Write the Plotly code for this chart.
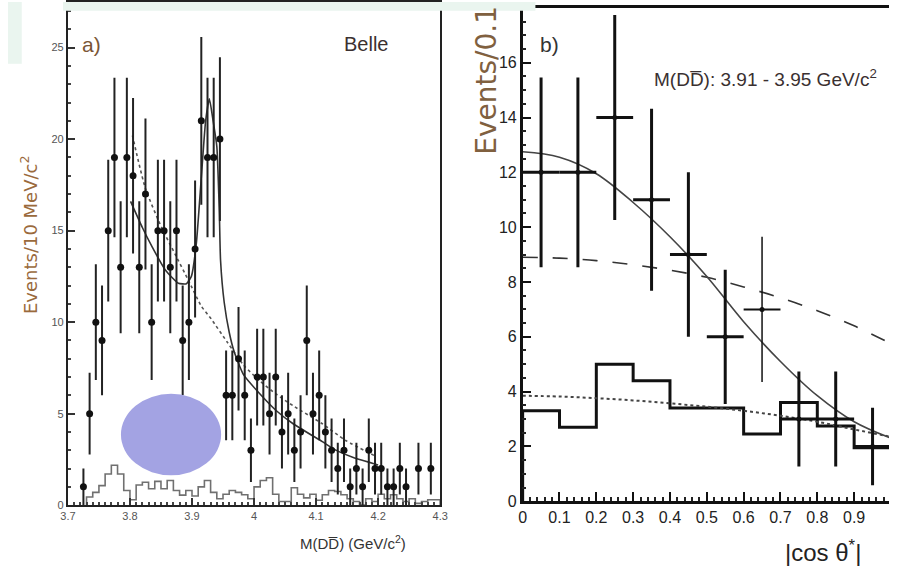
import numpy as np
import plotly.graph_objects as go

# ---------------- Panel a data ----------------
mass = [3.725, 3.735, 3.745, 3.755, 3.765, 3.775, 3.785, 3.795, 3.805, 3.815,
        3.825, 3.835, 3.845, 3.855, 3.865, 3.875, 3.885, 3.895, 3.905, 3.915,
        3.925, 3.935, 3.945, 3.955, 3.965, 3.975, 3.985, 3.995, 4.005, 4.015,
        4.025, 4.035, 4.045, 4.055, 4.065, 4.075, 4.085, 4.095, 4.105, 4.115,
        4.125, 4.135, 4.145, 4.155, 4.165, 4.175, 4.185, 4.195, 4.205, 4.215,
        4.225, 4.235, 4.245, 4.265, 4.285]
counts_a = [1, 5, 10, 9, 15, 19, 13, 19, 18, 13,
            17, 10, 15, 15, 13, 15, 9, 10, 14, 21,
            19, 19, 20, 6, 6, 8, 6, 3, 7, 7,
            5, 7, 4, 5, 3, 4, 9, 5, 6, 4,
            3, 2, 3, 1, 2, 1, 3, 2, 2, 1,
            1, 2, 1, 2, 2]

# background histogram (10 MeV bins starting at 3.73)
bkg_a_start = 3.73
bkg_a_width = 0.01
bkg_a = [0.45, 0.7, 1.07, 1.7, 2.18, 1.7, 0.8, 0.3, 1.1, 1.25,
         0.9, 1.3, 0.9, 1.35, 0.8, 0.55, 0.8, 0.5, 1.0, 1.35,
         0.7, 0.35, 0.6, 0.8, 0.7, 0.57, 0.35, 1.0, 1.35, 1.5,
         0.6, 0.2, 0.2, 0.95, 0.6, 0.4, 0.6, 0.27, 0.57, 0.8,
         0.75, 0.57, 0.35, 0.2, 0.0, 0.35, 0.2, 0.6, 0.35, 0.57,
         0.35, 0.2, 0.35, 0.1, 0.2, 0.3, 0.3]

# fit with resonance (solid)
fit_a_x = [3.801, 3.820, 3.836, 3.857, 3.878, 3.891, 3.899, 3.907, 3.915, 3.922,
           3.928, 3.934, 3.940, 3.944, 3.946, 3.952, 3.960, 3.968, 3.983, 4.010,
           4.036, 4.063, 4.110, 4.131, 4.160, 4.200]
fit_a_y = [16.6, 15.17, 14.1, 12.85, 12.13, 12.1, 12.5, 14.3, 17.9, 21.0,
           22.2, 21.0, 19.6, 16.1, 13.4, 11.06, 9.45, 8.38, 7.13, 6.06,
           5.16, 4.45, 3.47, 3.02, 2.6, 2.2]
# background-only fit (dotted)
bfit_a_x = [3.804, 3.825, 3.851, 3.873, 3.894, 3.915, 3.931, 3.957, 3.983, 4.010,
            4.036, 4.063, 4.110, 4.147, 4.197]
bfit_a_y = [20.2, 17.3, 15.17, 13.7, 12.3, 10.88, 10.17, 8.9, 7.66, 6.77,
            6.06, 5.43, 4.45, 3.55, 2.66]

# ---------------- Panel b data ----------------
cos_b = [0.05, 0.15, 0.25, 0.35, 0.45, 0.55, 0.65, 0.75, 0.85, 0.95]
counts_b = [12, 12, 14, 11, 9, 6, 7, 3, 3, 2]
bkg_b = [3.3, 2.7, 5.0, 4.4, 3.4, 3.4, 2.45, 3.6, 2.75, 1.95]
curve_x = [0.0, 0.1, 0.2, 0.3, 0.4, 0.5, 0.6, 0.7, 0.8, 0.9, 1.0]
solid_b = [12.75, 12.55, 11.95, 10.9, 9.65, 8.2, 6.55, 5.1, 3.85, 2.9, 2.3]
dashed_b = [8.9, 8.87, 8.78, 8.63, 8.43, 8.17, 7.82, 7.42, 6.95, 6.4, 5.75]
dotted_b = [3.85, 3.82, 3.76, 3.68, 3.57, 3.45, 3.3, 3.12, 2.9, 2.62, 2.35]

W, H = 897, 574
def px(x):
    return x / W
def py(y):
    return (H - y) / H

def steps(start, width, vals):
    xs = [start]
    ys = [0]
    for i, v in enumerate(vals):
        xs.append(start + i * width)
        ys.append(v)
    xs.append(start + len(vals) * width)
    ys.append(vals[-1])
    xs.append(start + len(vals) * width)
    ys.append(0)
    return xs, ys

fig = go.Figure()

# panel a histogram
hx, hy = steps(bkg_a_start, bkg_a_width, bkg_a)
fig.add_trace(go.Scatter(x=hx, y=hy, mode="lines", line=dict(color="#707070", width=1.6, shape="hv"),
                         xaxis="x", yaxis="y", hoverinfo="skip"))
fig.add_trace(go.Scatter(x=bfit_a_x, y=bfit_a_y, mode="lines",
                         line=dict(color="#555555", width=1.6, dash="dot", shape="spline", smoothing=0.6),
                         xaxis="x", yaxis="y"))
fig.add_trace(go.Scatter(x=fit_a_x, y=fit_a_y, mode="lines",
                         line=dict(color="#333333", width=1.6, shape="spline", smoothing=0.5),
                         xaxis="x", yaxis="y"))
fig.add_trace(go.Scatter(x=mass, y=counts_a, mode="markers",
                         marker=dict(color="#111111", size=7),
                         error_y=dict(type="data", array=list(np.sqrt(counts_a)), color="#222222",
                                      thickness=2, width=0),
                         xaxis="x", yaxis="y"))

# panel b
bx, by = steps(0.0, 0.1, bkg_b)
fig.add_trace(go.Scatter(x=bx, y=by, mode="lines", line=dict(color="#111111", width=3, shape="hv"),
                         xaxis="x2", yaxis="y2"))
fig.add_trace(go.Scatter(x=curve_x, y=dashed_b, mode="lines",
                         line=dict(color="#333333", width=1.6, dash="longdash", shape="spline"),
                         xaxis="x2", yaxis="y2"))
fig.add_trace(go.Scatter(x=curve_x, y=dotted_b, mode="lines",
                         line=dict(color="#444444", width=2, dash="dot", shape="spline"),
                         xaxis="x2", yaxis="y2"))
fig.add_trace(go.Scatter(x=curve_x, y=solid_b, mode="lines",
                         line=dict(color="#444444", width=1.6, shape="spline"),
                         xaxis="x2", yaxis="y2"))
thick_idx = [i for i in range(len(cos_b)) if i != 6]
fig.add_trace(go.Scatter(x=[cos_b[i] for i in thick_idx], y=[counts_b[i] for i in thick_idx],
                         mode="markers", marker=dict(color="#111111", size=5),
                         error_y=dict(type="data", array=[float(np.sqrt(counts_b[i])) for i in thick_idx],
                                      color="#111111", thickness=3, width=0),
                         error_x=dict(type="constant", value=0.05, color="#111111", thickness=3, width=0),
                         xaxis="x2", yaxis="y2"))
fig.add_trace(go.Scatter(x=[cos_b[6]], y=[counts_b[6]], mode="markers",
                         marker=dict(color="#111111", size=5),
                         error_y=dict(type="data", array=[float(np.sqrt(counts_b[6]))],
                                      color="#111111", thickness=1.5, width=0),
                         error_x=dict(type="constant", value=0.05, color="#111111", thickness=2, width=0),
                         xaxis="x2", yaxis="y2"))

axis_common = dict(showgrid=False, zeroline=False, showline=True, ticks="inside")
fig.update_layout(
    width=W, height=H, margin=dict(l=0, r=0, t=0, b=0),
    plot_bgcolor="white", paper_bgcolor="white", showlegend=False,
    xaxis=dict(**axis_common, domain=[px(61), px(440)], range=[3.7, 4.3], anchor="y",
               tick0=3.7, dtick=0.1, ticklen=7, tickwidth=1.5, tickcolor="#333",
               linewidth=2, linecolor="#222", mirror=True,
               minor=dict(dtick=0.01, ticks="inside", ticklen=3, tickcolor="#444"),
               tickfont=dict(family="Liberation Sans", size=11, color="#555")),
    yaxis=dict(**axis_common, domain=[(H - 513) / H, 1], range=[0, 513 / 18.66], anchor="x",
               tick0=0, dtick=5, ticklen=7, tickwidth=1.5, tickcolor="#333",
               linewidth=2, linecolor="#222", mirror=True,
               minor=dict(dtick=1, ticks="inside", ticklen=3, tickcolor="#444"),
               tickfont=dict(family="Liberation Sans", size=11, color="#555")),
    xaxis2=dict(**axis_common, domain=[px(524), 1], range=[0, (897 - 524) / 375], anchor="y2",
                tick0=0, dtick=0.1, ticklen=9, tickwidth=2, tickcolor="#111",
                linewidth=2.5, linecolor="#111", mirror=True,
                minor=dict(dtick=0.02, ticks="inside", ticklen=4, tickcolor="#222"),
                tickfont=dict(family="Liberation Sans", size=16, color="#222")),
    yaxis2=dict(**axis_common, domain=[(H - 509) / H, (H - 6) / H], range=[0, 18], anchor="x2",
                tick0=0, dtick=2, ticklen=9, tickwidth=2, tickcolor="#111",
                linewidth=2.5, linecolor="#111",
                minor=dict(dtick=0.5, ticks="inside", ticklen=4, tickcolor="#222"),
                tickfont=dict(family="Liberation Sans", size=16, color="#222")),
)

DD = "M(DD\u0305)"
ann = [
    dict(x=px(22), y=py(237), text="Events/10 MeV/c<sup>2</sup>", textangle=-90,
         font=dict(family="DejaVu Sans", size=18, color="#9a6a3c")),
    dict(x=px(351), y=py(551), text=DD + " (GeV/c<sup>2</sup>)",
         font=dict(family="Liberation Sans", size=15, color="#333")),
    dict(x=px(85), y=py(43), text="a)", font=dict(family="Liberation Sans", size=21, color="#7a5535")),
    dict(x=px(365), y=py(43), text="Belle", font=dict(family="Liberation Sans", size=20, color="#3b3030")),
    dict(x=px(551), y=py(43), text="b)", font=dict(family="Liberation Sans", size=21, color="#333")),
    dict(x=px(771), y=py(77), text=DD + ": 3.91 - 3.95 GeV/c<sup>2</sup>",
         font=dict(family="Liberation Sans", size=19, color="#3a3030")),
    dict(x=px(487), y=py(80), text="Events/0.1", textangle=-90,
         font=dict(family="DejaVu Sans", size=28, color="#80603f")),
    dict(x=px(830), y=py(560), text="|cos \u03b8<sup>*</sup>|",
         font=dict(family="Liberation Sans", size=24, color="#222")),
]
for a in ann:
    a.update(xref="paper", yref="paper", showarrow=False, xanchor="center", yanchor="middle")
fig.update_layout(annotations=ann)

shapes = [
    dict(type="rect", xref="paper", yref="paper", x0=0, x1=px(14), y0=py(63), y1=1,
         fillcolor="#eaf5ef", line=dict(width=0), layer="above"),
    dict(type="rect", xref="paper", yref="paper", x0=px(56), x1=px(537), y0=py(9), y1=1,
         fillcolor="#eaf5ef", line=dict(width=0), layer="above"),
    dict(type="circle", xref="paper", yref="paper", x0=px(115), x1=px(217), y0=py(482.5), y1=py(399.5),
         fillcolor="#a3a3e3", line=dict(width=0), layer="above"),
]
fig.update_layout(shapes=shapes)

fig.write_html("out.html", config=dict(displayModeBar=False),
               post_script="document.body.style.margin='0';document.body.style.overflow='hidden';")
